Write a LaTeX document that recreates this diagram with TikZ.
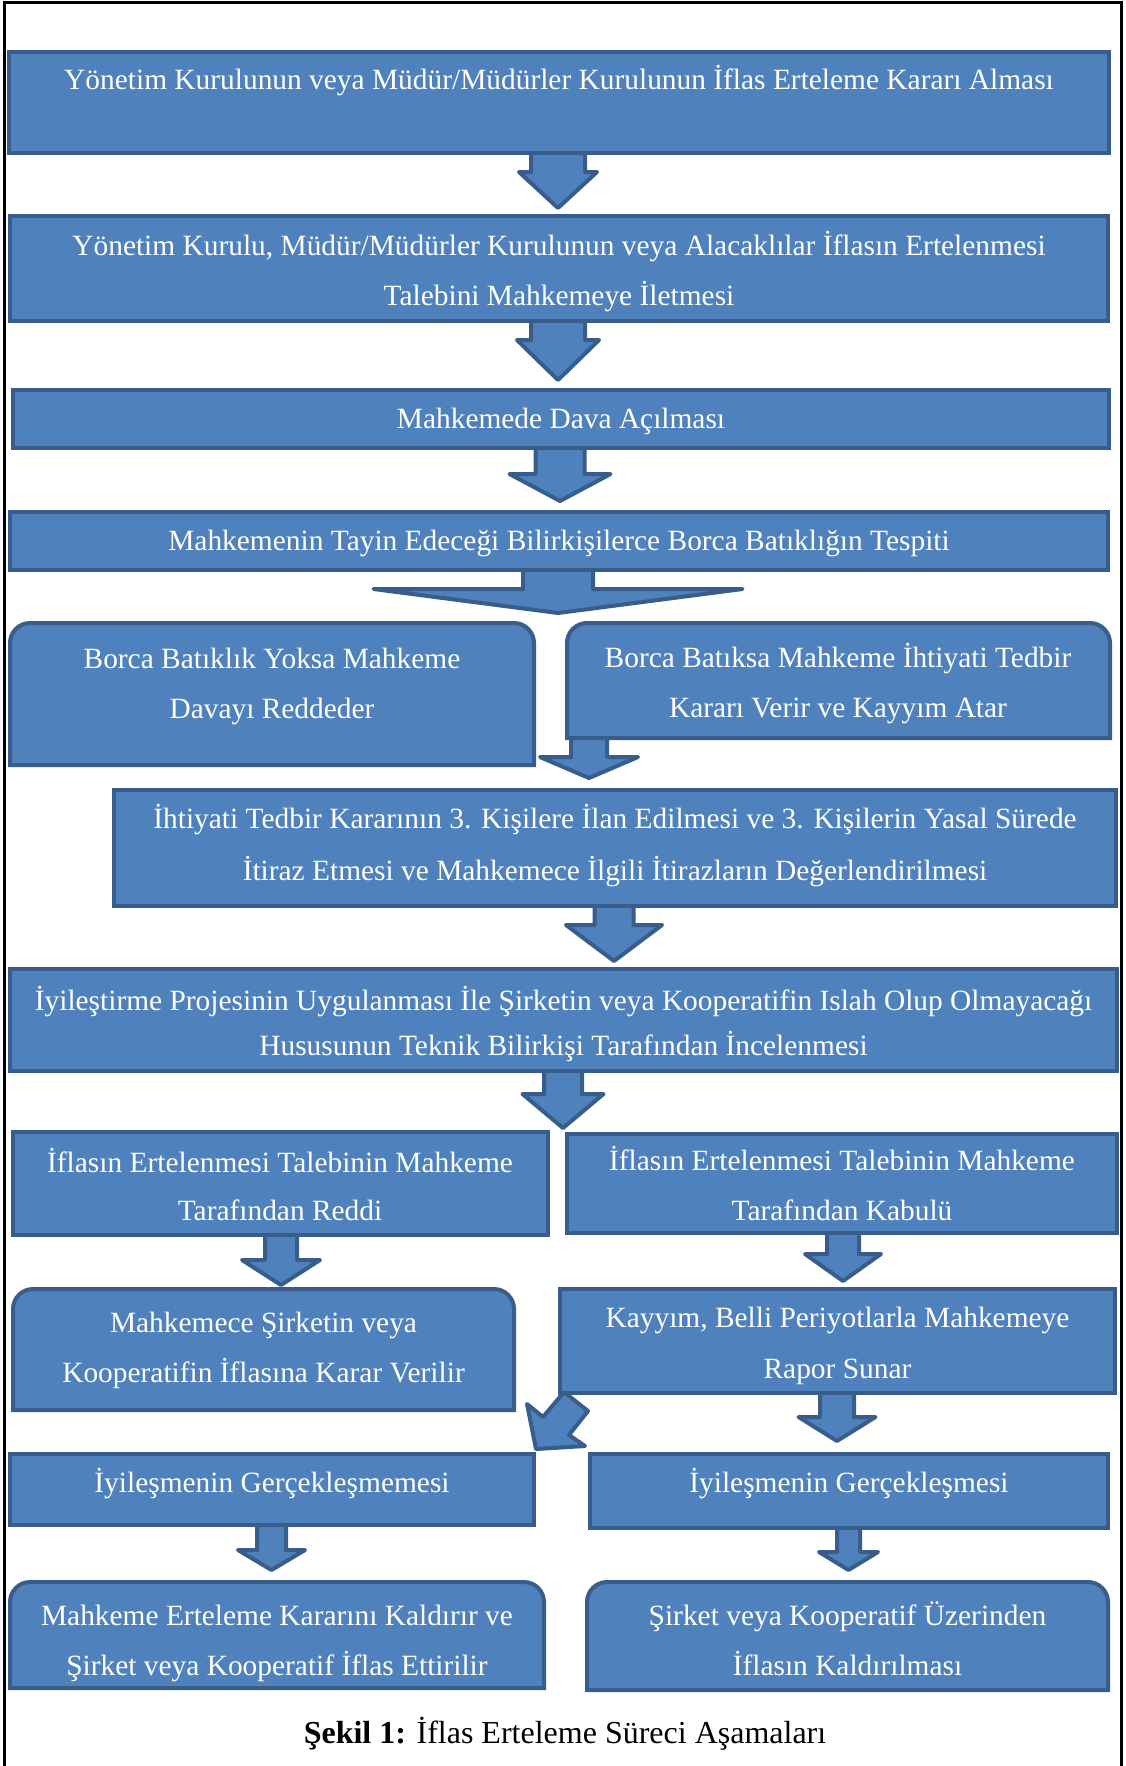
\documentclass[tikz,border=0pt]{standalone}
\usepackage{fontspec}
\setmainfont{Liberation Serif}
\definecolor{bfill}{HTML}{4F81BD}
\definecolor{bline}{HTML}{385D8A}
\newcommand\sqbox[5]{\node[boxsq, minimum width={(#4-#2-4)*0.5pt}, minimum height={(#5-#3-4)*0.5pt}] (#1) at ({(#2+#4)/2},{(#3+#5)/2}) {};}
\newcommand\rdbox[5]{\node[boxghost, minimum width={(#4-#2-4)*0.5pt}, minimum height={(#5-#3-4)*0.5pt}] (#1) at ({(#2+#4)/2},{(#3+#5)/2}) {};
  \draw[boxline] (#1.south west) -- ([yshift=-10pt]#1.north west)
    .. controls ([yshift=-4.5pt]#1.north west) and ([xshift=4.5pt]#1.north west) .. ([xshift=10pt]#1.north west)
    -- ([xshift=-10pt]#1.north east)
    .. controls ([xshift=-4.5pt]#1.north east) and ([yshift=-4.5pt]#1.north east) .. ([yshift=-10pt]#1.north east)
    -- (#1.south east) -- cycle;}
\newcommand\dnarrow[6]{\draw[arr] ({#1-#2+2},#4) -- ({#1-#2+2},{#5+2}) -- ({#1-#3+2},{#5+2}) -- (#1,{#6-2}) -- ({#1+#3-2},{#5+2}) -- ({#1+#2-2},{#5+2}) -- ({#1+#2-2},#4);}
\begin{document}
\begin{tikzpicture}[x=0.5pt,y=-0.5pt,
  boxsq/.style={draw=bline, fill=bfill, line width=2pt, inner sep=0pt, outer sep=0pt, rectangle},
  boxghost/.style={draw=none, fill=none, inner sep=0pt, outer sep=0pt, rectangle},
  boxline/.style={draw=bline, fill=bfill, line width=2pt},
  arr/.style={draw=bline, fill=bfill, line width=2pt, line join=round},
  txt/.style={text=white, font=\fontsize{14.7pt}{17pt}\selectfont, inner sep=0pt, anchor=base},
  captxt/.style={text=black, font=\fontsize{16pt}{19pt}\selectfont, inner sep=0pt, anchor=base}]
\useasboundingbox (0,0) rectangle (1125,1766);
\fill[white] (0,0) rectangle (1125,1766);
% frame
\draw[line width=1.5pt] (4,1766) -- (4,2.5) -- (1121.5,2.5) -- (1121.5,1766);
% arrows (behind boxes)
\dnarrow{558}{29}{41}{149}{170}{210}
\dnarrow{558}{29}{43}{317}{338}{382}
\dnarrow{560}{26.5}{52.5}{444}{472}{503}
\dnarrow{558}{37}{186.5}{566}{587}{615}
\dnarrow{589}{20}{51}{734}{755}{780}
\dnarrow{614}{21.5}{50}{902}{923}{963}
\dnarrow{563}{21}{42.5}{1067}{1092}{1130}
\dnarrow{281}{18}{41}{1231}{1258}{1287}
\dnarrow{843}{18}{40}{1229}{1252}{1283}
\dnarrow{837}{19}{40.5}{1389}{1415}{1443}
\dnarrow{271.5}{16.5}{35.5}{1521}{1548}{1572}
\dnarrow{848.5}{13.5}{31.5}{1524}{1550}{1572}
\draw[arr] (564,1392) -- (543,1417) -- (527,1404) -- (536,1449) -- (585,1446) -- (569,1435) -- (588,1411) -- cycle;
% boxes
\sqbox{b1}{7}{50}{1111}{155}
\sqbox{b2}{8}{214}{1110}{323}
\sqbox{b3}{11}{388}{1111}{450}
\sqbox{b4}{8}{510}{1110}{572}
\rdbox{b5a}{8}{621}{536}{767}
\rdbox{b5b}{565}{621}{1112}{740}
\sqbox{b6}{112}{788}{1118}{908}
\sqbox{b7}{8}{967}{1119}{1073}
\sqbox{b8a}{11}{1130}{550}{1237}
\sqbox{b8b}{565}{1132}{1119}{1235}
\rdbox{b9a}{11}{1287}{516}{1412}
\sqbox{b9b}{558}{1287}{1117}{1395}
\sqbox{b10a}{8}{1452}{536}{1527}
\sqbox{b10b}{588}{1452}{1110}{1530}
\rdbox{b11a}{8}{1580}{546}{1690}
\rdbox{b11b}{585}{1580}{1110}{1692}
% texts
\node[txt] (t1) at (559,90) {Yönetim Kurulunun veya Müdür/Müdürler Kurulunun İflas Erteleme Kararı Alması};
\node[txt] (t2a) at (559,255) {Yönetim Kurulu, Müdür/Müdürler Kurulunun veya Alacaklılar İflasın Ertelenmesi};
\node[txt] (t2b) at (559,305) {Talebini Mahkemeye İletmesi};
\node[txt] (t3) at (561,428) {Mahkemede Dava Açılması};
\node[txt] (t4) at (559,550) {Mahkemenin Tayin Edeceği Bilirkişilerce Borca Batıklığın Tespiti};
\node[txt] (t5aa) at (272,668) {Borca Batıklık Yoksa Mahkeme};
\node[txt] (t5ab) at (272,718) {Davayı Reddeder};
\node[txt] (t5ba) at (838,667) {Borca Batıksa Mahkeme İhtiyati Tedbir};
\node[txt] (t5bb) at (838,717) {Kararı Verir ve Kayyım Atar};
\node[txt] (t6a) at (615,828) {İhtiyati Tedbir Kararının 3. Kişilere İlan Edilmesi ve 3. Kişilerin Yasal Sürede};
\node[txt] (t6b) at (615,880) {İtiraz Etmesi ve Mahkemece İlgili İtirazların Değerlendirilmesi};
\node[txt] (t7a) at (563.5,1010) {İyileştirme Projesinin Uygulanması İle Şirketin veya Kooperatifin Islah Olup Olmayacağı};
\node[txt] (t7b) at (563.5,1055) {Hususunun Teknik Bilirkişi Tarafından İncelenmesi};
\node[txt] (t8aa) at (280,1172) {İflasın Ertelenmesi Talebinin Mahkeme};
\node[txt] (t8ab) at (280,1220) {Tarafından Reddi};
\node[txt] (t8ba) at (842,1170) {İflasın Ertelenmesi Talebinin Mahkeme};
\node[txt] (t8bb) at (842,1220) {Tarafından Kabulü};
\node[txt] (t9aa) at (263.5,1332) {Mahkemece Şirketin veya};
\node[txt] (t9ab) at (263.5,1382) {Kooperatifin İflasına Karar Verilir};
\node[txt] (t9ba) at (837.5,1327) {Kayyım, Belli Periyotlarla Mahkemeye};
\node[txt] (t9bb) at (837.5,1378) {Rapor Sunar};
\node[txt] (t10a) at (272,1492) {İyileşmenin Gerçekleşmemesi};
\node[txt] (t10b) at (849,1492) {İyileşmenin Gerçekleşmesi};
\node[txt] (t11aa) at (277,1625) {Mahkeme Erteleme Kararını Kaldırır ve};
\node[txt] (t11ab) at (277,1675) {Şirket veya Kooperatif İflas Ettirilir};
\node[txt] (t11ba) at (847.5,1625) {Şirket veya Kooperatif Üzerinden};
\node[txt] (t11bb) at (847.5,1675) {İflasın Kaldırılması};
\node[captxt] (caption) at (565,1743) {\textbf{Şekil 1:} İflas Erteleme Süreci Aşamaları};
\end{tikzpicture}
\end{document}
